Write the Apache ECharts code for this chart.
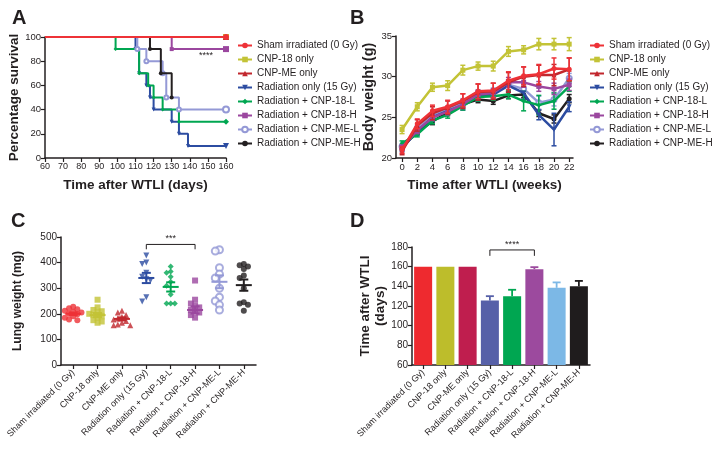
<!DOCTYPE html>
<html><head><meta charset="utf-8">
<script src="https://cdn.jsdelivr.net/npm/echarts@6/dist/echarts.min.js"></script>
<style>html,body{margin:0;padding:0;background:#fff}#c{width:714px;height:451px}</style>
</head><body><div id="c"></div>
<script>
// ---------- shared categories ----------
const groups = ['Sham irradiated (0 Gy)','CNP-18 only','CNP-ME only','Radiation only (15 Gy)','Radiation + CNP-18-L','Radiation + CNP-18-H','Radiation + CNP-ME-L','Radiation + CNP-ME-H'];
const colors = ['#ee3237','#c3c336','#c1272d','#2c4ca1','#00a651','#9b479f','#9499d6','#231f20'];
const barColors = ['#ee2a2f','#bdbd2b','#bf1e4e','#5660a8','#00a651','#9c4a9e','#7cb8e6','#1f1c1d'];
const symbols = ['circle','rect','triangle','path://M0,0L10,0L5,9Z','diamond','rect','emptyCircle','circle'];

// ---------- Panel A: survival [day, %] ----------
const survSham  = [[60,100],[160,100]];
const survCnp18 = [[60,100],[160,100]];
const survCnpMe = [[60,100],[160,100]];
const survRad   = [[60,100],[110,90],[112,70],[116,60],[118,50],[120,40],[130,30],[134,20],[139,10],[160,10]];
const survL18   = [[60,100],[99,90],[112,70],[117,60],[120,50],[125,40],[134,30],[160,30]];
const survH18   = [[60,100],[130,90],[160,90]];
const survMeL   = [[60,100],[111,90],[116,80],[125,70],[127,50],[134,40],[160,40]];
const survMeH   = [[60,100],[118,90],[124,70],[130,50]];
const sigA = [[149, 85, '****']];

// ---------- Panel B: body weight (g) ----------
const weeks = [0,2,4,6,8,10,12,14,16,18,20,22];
const bwSham    = [21.0,24.2,25.8,26.3,27.1,28.2,28.3,29.5,30.1,30.3,31.0,30.9];
const bwShamErr = [0.4,0.6,0.7,0.8,0.8,0.9,0.9,1.1,1.1,1.2,1.3,1.4];
const bwCnp18    = [23.5,26.3,28.7,28.9,30.8,31.3,31.3,33.1,33.3,34.0,34.0,34.0];
const bwCnp18Err = [0.5,0.5,0.5,0.6,0.6,0.5,0.6,0.6,0.5,0.7,0.7,0.8];
const bwCnpMe    = [20.8,24.0,25.5,26.2,27.0,28.1,28.2,29.3,30.0,30.2,30.2,30.9];
const bwCnpMeErr = [0.4,0.7,0.8,0.8,0.9,1.0,1.0,1.2,1.2,1.2,1.3,1.4];
const bwRad    = [21.2,23.3,25.0,25.8,26.5,27.6,27.8,28.9,28.0,25.3,23.5,26.3];
const bwRadErr = [0.4,0.5,0.5,0.5,0.6,0.6,0.6,0.7,0.8,0.6,2.0,0.6];
const bwL18    = [21.8,22.9,24.6,25.3,26.4,27.5,27.6,27.8,27.0,26.5,27.0,28.8];
const bwL18Err = [0.3,0.3,0.4,0.4,0.5,0.5,0.5,0.5,1.2,1.2,1.0,0.6];
const bwH18    = [21.3,23.4,25.0,25.7,26.6,27.8,28.0,29.3,29.3,28.8,28.5,29.0];
const bwH18Err = [0.3,0.4,0.4,0.4,0.5,0.5,0.5,0.6,0.6,0.6,0.7,0.7];
const bwMeL    = [21.4,23.6,25.2,26.0,26.8,27.9,28.1,29.0,28.5,26.8,27.2,29.8];
const bwMeLErr = [0.3,0.4,0.4,0.4,0.5,0.5,0.5,0.6,0.7,0.8,0.8,0.6];
const bwMeH    = [21.3,23.2,24.5,25.6,26.6,27.2,27.0,27.7,27.8,25.5,24.8,27.3];
const bwMeHErr = [0.3,0.3,0.4,0.4,0.4,0.4,0.4,0.4,0.4,0.4,0.5,0.5];

// ---------- Panel C: lung weight (mg) per animal ----------
const lwSham  = [228,222,218,212,208,205,200,198,195,190,185,178,175];
const lwCnp18 = [255,225,215,210,205,200,195,190,185,175,170,165];
const lwCnpMe = [212,205,195,188,182,178,172,165,158,155,155];
const lwRad   = [428,400,395,360,345,335,330,265,248];
const lwL18   = [385,365,360,345,325,310,275,240,240,240];
const lwH18   = [330,255,240,232,225,215,210,205,195,185];
const lwMeL   = [450,445,380,355,340,300,265,250,235,215];
const lwMeH   = [395,390,385,375,350,340,300,245,240,235,212];
const lwMean  = [200,195,180,340,305,215,325,312];
const lwSem   = [5,8,6,20,18,14,25,22];
const sigC = [[3,5,471,452,'***']];

// ---------- Panel D: time after WTLI (days) ----------
const tMean = [160,160,160,125.5,130,157.5,138.5,140];
const tErr  = [0,0,0,4.5,6.5,2,5.5,5.5];
const sigD = [[3,5,177,171,'****']];

// ================= build =================
const FONT = '"Liberation Sans", Arial, sans-serif';
const INK = '#231f20';
const chart = echarts.init(document.getElementById('c'));

function valAxis(o, fs){
  fs = fs || 10;
  return Object.assign({
    type:'value',
    axisLine:{show:true,onZero:false,lineStyle:{color:INK,width:1.5}},
    axisTick:{show:true,length:4,lineStyle:{color:INK,width:1.2}},
    axisLabel:{color:INK,fontSize:fs,fontFamily:FONT,margin:4},
    splitLine:{show:false},
    nameTextStyle:{color:INK,fontSize:13.5,fontWeight:'bold',fontFamily:FONT},
    nameLocation:'middle'
  }, o);
}
function catAxis(o){
  return Object.assign({
    type:'category', data:groups, boundaryGap:true,
    axisLine:{show:true,lineStyle:{color:INK,width:1.5}},
    axisTick:{show:true,alignWithLabel:true,length:4,lineStyle:{color:INK,width:1.2}},
    axisLabel:{color:INK,fontSize:9,fontFamily:FONT,rotate:45,margin:6,interval:0},
    splitLine:{show:false}
  }, o);
}

const series = [];

// Panel A
const survData = [survSham,survCnp18,survCnpMe,survRad,survL18,survH18,survMeL,survMeH];
survData.forEach((d,i)=>{
  series.push({
    name:groups[i], type:'line', xAxisIndex:0, yAxisIndex:0, step:'end',
    symbol:symbols[i], symbolSize:5, color:colors[i],
    itemStyle:{color:colors[i], borderColor:colors[i], borderWidth: symbols[i]==='emptyCircle'?1.5:0},
    lineStyle:{width:2,color:colors[i]},
    data:d.map((p,j)=> j===0 ? {value:p, symbol:'none'} : {value:p, symbolSize: p[0]===160?6:4}),
    z: i===0 ? 12 : (i<3 ? 2 : 3+i), animation:false
  });
});
series.push({
  type:'custom', xAxisIndex:0, yAxisIndex:0, data:sigA, z:20, animation:false,
  renderItem:(params,api)=>{
    const p = api.coord([api.value(0),api.value(1)]);
    return {type:'text', style:{text:sigA[params.dataIndex][2], x:p[0], y:p[1], align:'center', verticalAlign:'middle', fill:INK, font:'9px '+FONT}};
  }
});

// Panel B
const bwVals = [bwSham,bwCnp18,bwCnpMe,bwRad,bwL18,bwH18,bwMeL,bwMeH];
const bwErrs = [bwShamErr,bwCnp18Err,bwCnpMeErr,bwRadErr,bwL18Err,bwH18Err,bwMeLErr,bwMeHErr];
const zB = [20,14,18,12,13,15,11,10];
bwVals.forEach((v,i)=>{
  const col = colors[i];
  series.push({
    type:'custom', xAxisIndex:1, yAxisIndex:1, z:zB[i]-1, animation:false,
    data: weeks.map((w,k)=>[w, v[k], bwErrs[i][k]]),
    renderItem:(params,api)=>{
      const x=api.value(0), y=api.value(1), e=api.value(2);
      const t=api.coord([x,y+e]), b=api.coord([x,y-e]);
      const st={stroke:col,lineWidth:1.5};
      return {type:'group',children:[
        {type:'line',shape:{x1:t[0],y1:t[1],x2:b[0],y2:b[1]},style:st},
        {type:'line',shape:{x1:t[0]-2.5,y1:t[1],x2:t[0]+2.5,y2:t[1]},style:st},
        {type:'line',shape:{x1:b[0]-2.5,y1:b[1],x2:b[0]+2.5,y2:b[1]},style:st}
      ]};
    }
  });
  series.push({
    name:groups[i], type:'line', xAxisIndex:1, yAxisIndex:1,
    symbol:symbols[i], symbolSize:5, color:col,
    itemStyle:{color:col, borderColor:col, borderWidth: symbols[i]==='emptyCircle'?1.5:0},
    lineStyle:{width:2.5,color:col},
    data: weeks.map((w,k)=>[w, v[k]]), z:zB[i], animation:false
  });
});

// Panel C scatter (beeswarm offsets computed from values)
function swarm(vals){
  const placed=[];
  const cands=[0,-1,1,-2,2,-3,3,-4,4];
  return vals.map(v=>{
    let off=0;
    for(const c of cands){
      const o=c*0.17;
      if(!placed.some(p=>Math.abs(p[1]-v)<18 && Math.abs(p[0]-o)<0.16)){off=o;break;}
    }
    placed.push([off,v]);
    return [off,v];
  });
}
const lwAll = [lwSham,lwCnp18,lwCnpMe,lwRad,lwL18,lwH18,lwMeL,lwMeH];
lwAll.forEach((vals,i)=>{
  const col = colors[i];
  const empty = symbols[i]==='emptyCircle';
  series.push({
    name:'C_'+i, type:'scatter', xAxisIndex:3, yAxisIndex:2,
    symbol:symbols[i], symbolSize: empty?7:6,
    itemStyle: empty ? {color:col, borderColor:col, borderWidth:1.6} : {color:col},
    data: swarm(vals).map(p=>[i+p[0], p[1]]), animation:false, z:5
  });
});
series.push({
  type:'custom', xAxisIndex:3, yAxisIndex:2, z:8, animation:false,
  data: lwMean.map((m,i)=>[i,m,lwSem[i]]),
  renderItem:(params,api)=>{
    const i=api.value(0), m=api.value(1), s=api.value(2);
    const col = colors[i];
    const c=api.coord([i,m]), t=api.coord([i,m+s]), b=api.coord([i,m-s]);
    const st={stroke:col,lineWidth:2};
    return {type:'group',children:[
      {type:'line',shape:{x1:c[0]-8,y1:c[1],x2:c[0]+8,y2:c[1]},style:st},
      {type:'line',shape:{x1:t[0],y1:t[1],x2:b[0],y2:b[1]},style:st},
      {type:'line',shape:{x1:t[0]-4.5,y1:t[1],x2:t[0]+4.5,y2:t[1]},style:st},
      {type:'line',shape:{x1:b[0]-4.5,y1:b[1],x2:b[0]+4.5,y2:b[1]},style:st}
    ]};
  }
});
function bracketRender(src){
  return (params,api)=>{
    const a=api.value(0), b=api.value(1), top=api.value(2), low=api.value(3);
    const p1=api.coord([a,low]), p2=api.coord([a,top]), p3=api.coord([b,top]), p4=api.coord([b,low]);
    return {type:'group',children:[
      {type:'polyline',shape:{points:[p1,p2,p3,p4]},style:{stroke:INK,lineWidth:1,fill:null}},
      {type:'text',style:{text:src[params.dataIndex][4],x:(p2[0]+p3[0])/2,y:p2[1]-1,align:'center',verticalAlign:'bottom',fill:INK,font:'9px '+FONT}}
    ]};
  };
}
series.push({type:'custom', xAxisIndex:3, yAxisIndex:2, z:9, animation:false, data:sigC, renderItem:bracketRender(sigC)});

// Panel D
series.push({
  type:'bar', xAxisIndex:4, yAxisIndex:3, barCategoryGap:'19%', animation:false,
  data: tMean.map((v,i)=>({value:v, itemStyle:{color:barColors[i]}}))
});
series.push({
  type:'custom', xAxisIndex:4, yAxisIndex:3, z:5, animation:false,
  data: tMean.map((v,i)=>[i,v,tErr[i]]),
  renderItem:(params,api)=>{
    const i=api.value(0), v=api.value(1), e=api.value(2);
    if(!e) return null;
    const b=api.coord([i,v]), t=api.coord([i,v+e]);
    const st={stroke:barColors[i],lineWidth:1.8};
    return {type:'group',children:[
      {type:'line',shape:{x1:b[0],y1:b[1],x2:t[0],y2:t[1]},style:st},
      {type:'line',shape:{x1:t[0]-4,y1:t[1],x2:t[0]+4,y2:t[1]},style:st}
    ]};
  }
});
series.push({type:'custom', xAxisIndex:4, yAxisIndex:3, z:9, animation:false, data:sigD, renderItem:bracketRender(sigD)});

const legendBase = {
  orient:'vertical', data:groups, itemWidth:14, itemHeight:7, itemGap:3,
  textStyle:{color:INK,fontSize:10,fontFamily:FONT,lineHeight:11}, selectedMode:false, padding:0
};
const bold = (fs,lh)=>({color:INK,fontSize:fs,fontWeight:'bold',fontFamily:FONT,lineHeight:lh||fs+2});
const panelTitle = {fontSize:20,fontWeight:'bold',color:INK,fontFamily:FONT};

const option = {
  backgroundColor:'#fff',
  animation:false,
  textStyle:{fontFamily:FONT},
  title:[
    {text:'A',left:12,top:8,textStyle:panelTitle,padding:0},
    {text:'B',left:350,top:8,textStyle:panelTitle,padding:0},
    {text:'C',left:11,top:211,textStyle:panelTitle,padding:0},
    {text:'D',left:350,top:211,textStyle:panelTitle,padding:0}
  ],
  legend:[
    Object.assign({left:237, top:40}, legendBase),
    Object.assign({left:589, top:40}, legendBase)
  ],
  grid:[
    {left:45, top:37, width:181, height:121},
    {left:396, top:36, width:177, height:122},
    {left:61, top:237, width:195, height:128},
    {left:412, top:247, width:178, height:118}
  ],
  xAxis:[
    valAxis({gridIndex:0,min:60,max:160,interval:10,name:'Time after WTLI (days)',nameGap:20}, 9),
    valAxis({gridIndex:1,min:-0.8,max:22.5,interval:2,name:'Time after WTLI (weeks)',nameGap:20,
      axisLabel:{color:INK,fontSize:9.5,fontFamily:FONT,margin:4,customValues:weeks},
      axisTick:{show:true,length:4,lineStyle:{color:INK,width:1.2},customValues:weeks}}),
    catAxis({gridIndex:2}),
    {type:'value',gridIndex:2,min:-0.5,max:7.5,show:false},
    catAxis({gridIndex:3})
  ],
  yAxis:[
    valAxis({gridIndex:0,min:0,max:100,interval:20,name:'Percentage survival',nameGap:22}, 9.5),
    valAxis({gridIndex:1,min:20,max:35,interval:5,name:'Body weight (g)',nameGap:19,nameTextStyle:bold(14.5)}, 9.5),
    valAxis({gridIndex:2,min:0,max:500,interval:100,name:'Lung weight (mg)',nameGap:36,nameTextStyle:bold(12)}),
    valAxis({gridIndex:3,min:60,max:180,interval:20,name:'Time after WTLI\n(days)',nameGap:22,nameTextStyle:bold(13.5,15)})
  ],
  series:series
};
chart.setOption(option);
</script>
</body></html>
